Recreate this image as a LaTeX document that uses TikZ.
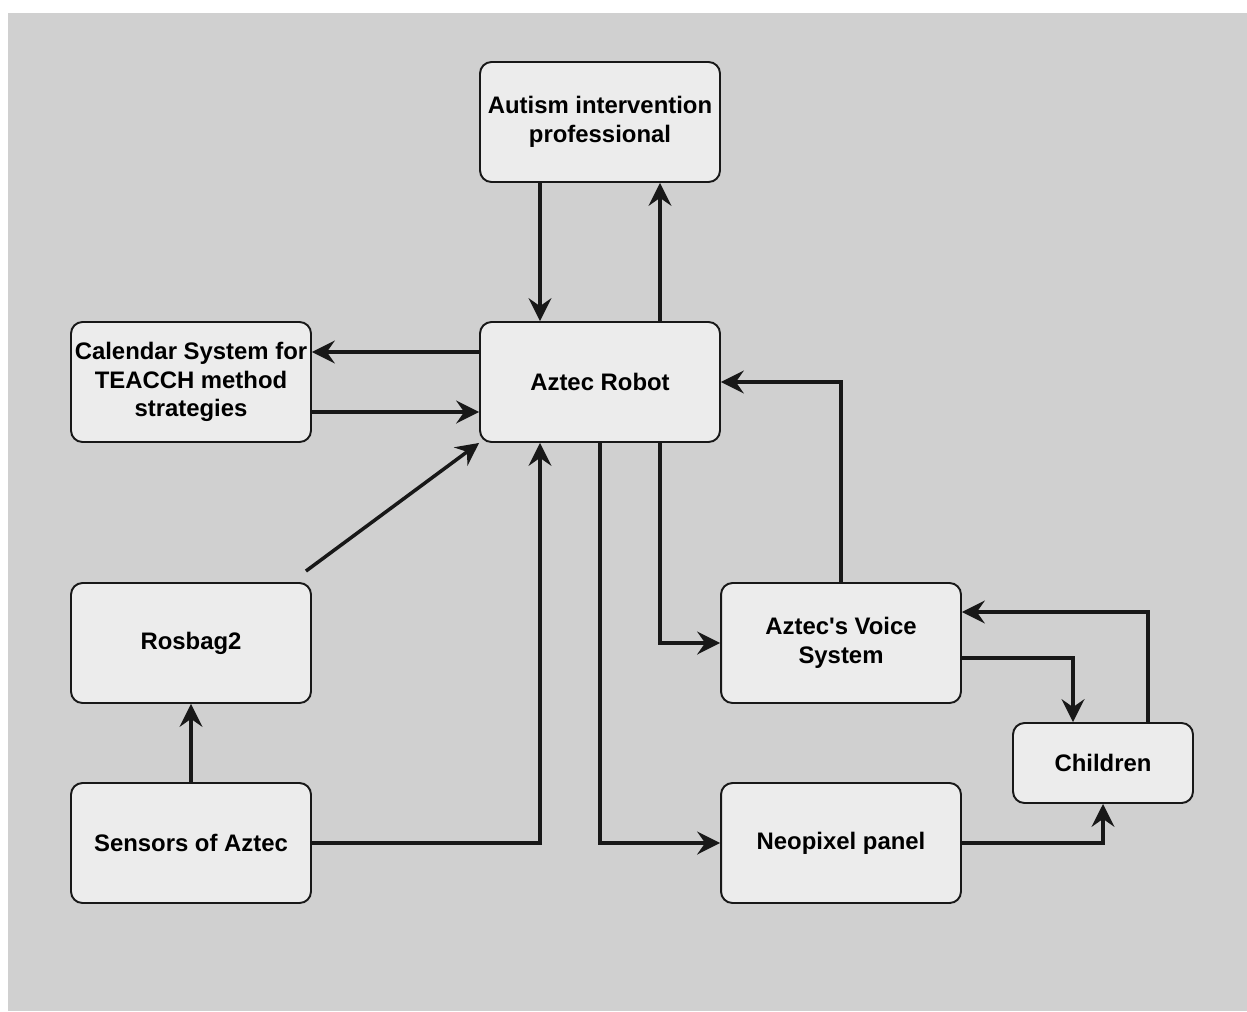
\documentclass[tikz,border=0pt]{standalone}
\usepackage{fontspec}
\setmainfont{Liberation Sans}
\usepackage{xcolor}
\usetikzlibrary{calc}
\usetikzlibrary{arrows.meta}

\definecolor{bggray}{RGB}{208,208,208}
\definecolor{boxgray}{RGB}{236,236,236}
\definecolor{inkgray}{RGB}{24,24,24}

\begin{document}
\begin{tikzpicture}[x=0.02cm,y=-0.02cm,
  box/.style={draw=inkgray,line width=1.1pt,fill=boxgray,rounded corners=6.5pt,
    minimum width=4.8cm,minimum height=2.4cm,align=center,inner sep=2pt,
    font=\fontsize{13.6}{16.4}\selectfont\bfseries},
  link/.style={line width=2pt,draw=inkgray,-{Stealth[length=13pt,width=13pt,inset=4.5pt]}}]
% Background
\useasboundingbox (0,0) rectangle (1247,1011);
\fill[bggray] (8,13) rectangle (1247,1011);

% Boxes
\node[box] (autism) at (600,122) {Autism intervention\\professional};
\node[box] (robot) at (600,382) {Aztec Robot};
\node[box] (calendar) at (191,382) {Calendar System for\\TEACCH method\\strategies};
\node[box] (rosbag) at (191,643) {Rosbag2};
\node[box] (sensors) at (191,843) {Sensors of Aztec};
\node[box] (voice) at (841,643) {Aztec\textquotesingle s Voice\\System};
\node[box] (neopixel) at (841,843) {Neopixel panel};
\node[box,minimum width=3.6cm,minimum height=1.6cm] (children) at (1103,763) {Children};

% Professional <-> robot
\draw[link] ($(autism.south)+(-60,0)$) -- ($(robot.north)+(-60,0)$);
\draw[link] ($(robot.north)+(60,0)$) -- ($(autism.south)+(60,0)$);

% Calendar <-> robot
\draw[link] ($(robot.west)+(0,-30)$) -- ($(calendar.east)+(0,-30)$);
\draw[link] ($(calendar.east)+(0,30)$) -- ($(robot.west)+(0,30)$);

% Rosbag2
\coordinate (rosend) at ($(rosbag.north east)+(-6,-11)$);
\draw[link] (rosend) -- (robot.south west);

% Sensors
\draw[link] (rosbag.north |- sensors.north) -- (rosbag.south);
\draw[link] (sensors.east) -| ($(robot.south)+(-60,0)$);

% Outputs of robot
\draw[link] (robot.south) |- (neopixel.west);
\draw[link] ($(robot.south)+(60,0)$) |- (voice.west);
\draw[link] (voice.north) |- (robot.east);

% Children loop
\draw[link] ($(voice.east)+(0,15)$) -| ($(children.north)+(-30,0)$);
\draw[link] ($(children.north)+(45,0)$) |- ($(voice.east)+(0,-31)$);
\draw[link] (neopixel.east) -| (children.south);
\end{tikzpicture}
\end{document}
